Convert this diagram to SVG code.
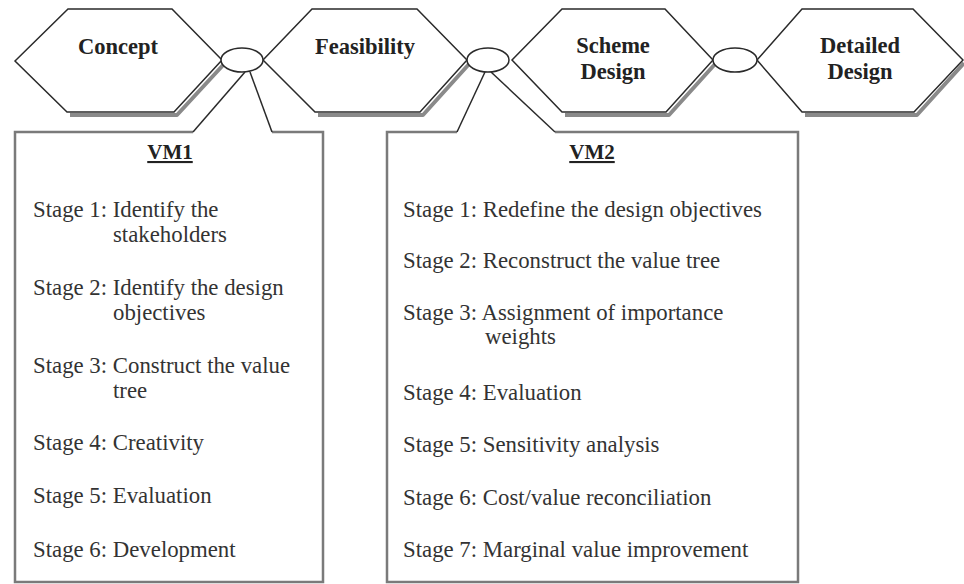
<svg xmlns="http://www.w3.org/2000/svg" width="964" height="584" viewBox="0 0 964 584">
<style>
.hex{fill:#fff;stroke:#2a2a2a;stroke-width:1.5}
.shadow{fill:none;stroke:#8a8a8a;stroke-width:4;stroke-linejoin:round}
.ell{fill:#fff;stroke:#2a2a2a;stroke-width:1.5}
.boxedge{fill:none;stroke:#7a7a7a;stroke-width:2.5}
.conn{fill:none;stroke:#2a2a2a;stroke-width:1.5}
.lbl{font-family:"Liberation Serif","Times New Roman",serif;font-weight:bold;font-size:22.5px;fill:#222;text-anchor:middle}
.ttl{font-family:"Liberation Serif","Times New Roman",serif;font-weight:bold;font-size:21px;fill:#222;text-anchor:middle;text-decoration:underline}
.st{font-family:"Liberation Serif","Times New Roman",serif;font-size:22.8px;fill:#333}
</style>
<g id="box-vm1">
<rect x="15" y="132" width="308" height="450" fill="#fff" stroke="none"/>
<path class="boxedge" d="M193 132 L15 132 L15 582 L323 582 L323 132 L272 132"/>
<text class="ttl" x="170" y="159">VM1</text>
<text class="st" x="33" y="217">Stage 1: Identify the</text>
<text class="st" x="113" y="242">stakeholders</text>
<text class="st" x="33" y="295">Stage 2: Identify the design</text>
<text class="st" x="113" y="320">objectives</text>
<text class="st" x="33" y="373">Stage 3: Construct the value</text>
<text class="st" x="113" y="398">tree</text>
<text class="st" x="33" y="450">Stage 4: Creativity</text>
<text class="st" x="33" y="503">Stage 5: Evaluation</text>
<text class="st" x="33" y="557">Stage 6: Development</text>
</g>
<g id="box-vm2">
<rect x="387" y="132" width="411" height="450" fill="#fff" stroke="none"/>
<path class="boxedge" d="M457 132 L387 132 L387 582 L798 582 L798 132 L555 132"/>
<text class="ttl" x="592" y="159">VM2</text>
<text class="st" x="403" y="217">Stage 1: Redefine the design objectives</text>
<text class="st" x="403" y="268">Stage 2: Reconstruct the value tree</text>
<text class="st" x="403" y="320">Stage 3: Assignment of importance</text>
<text class="st" x="485" y="344">weights</text>
<text class="st" x="403" y="400">Stage 4: Evaluation</text>
<text class="st" x="403" y="452">Stage 5: Sensitivity analysis</text>
<text class="st" x="403" y="505">Stage 6: Cost/value reconciliation</text>
<text class="st" x="403" y="557">Stage 7: Marginal value improvement</text>
</g>
<g id="connectors">
<line class="conn" x1="245" y1="72" x2="193" y2="132"/>
<line class="conn" x1="250" y1="72" x2="272" y2="132"/>
<line class="conn" x1="485" y1="72" x2="457" y2="132"/>
<line class="conn" x1="491" y1="72" x2="555" y2="132"/>
</g>
<g id="concept">
<polyline class="shadow" points="225,63 177,115 70,115"/>
<polygon class="hex" points="15,61 68,9 172,9 222,60 174,112 67,112"/>
<text class="lbl" x="118" y="54">Concept</text>
</g>
<g id="feasibility">
<polyline class="shadow" points="470,63 423,115 318,115"/>
<polygon class="hex" points="263,60 312,9 417,9 467,60 420,112 315,112"/>
<text class="lbl" x="365" y="54">Feasibility</text>
</g>
<g id="scheme-design">
<polyline class="shadow" points="716,63 669,115 565,115"/>
<polygon class="hex" points="512,60 562,9 665,9 713,60 666,112 562,112"/>
<text class="lbl" x="613" y="53">Scheme</text>
<text class="lbl" x="613" y="79">Design</text>
</g>
<g id="detailed-design">
<polyline class="shadow" points="964,63 917,115 805,115"/>
<polygon class="hex" points="757,60 802,9 913,9 963,60 914,112 802,112"/>
<text class="lbl" x="860" y="53">Detailed</text>
<text class="lbl" x="860" y="79">Design</text>
</g>
<g id="link1"><ellipse class="ell" cx="242" cy="60" rx="21" ry="12"/></g>
<g id="link2"><ellipse class="ell" cx="488" cy="60" rx="21" ry="12"/></g>
<g id="link3"><ellipse class="ell" cx="735" cy="60" rx="22" ry="12"/></g>
</svg>
